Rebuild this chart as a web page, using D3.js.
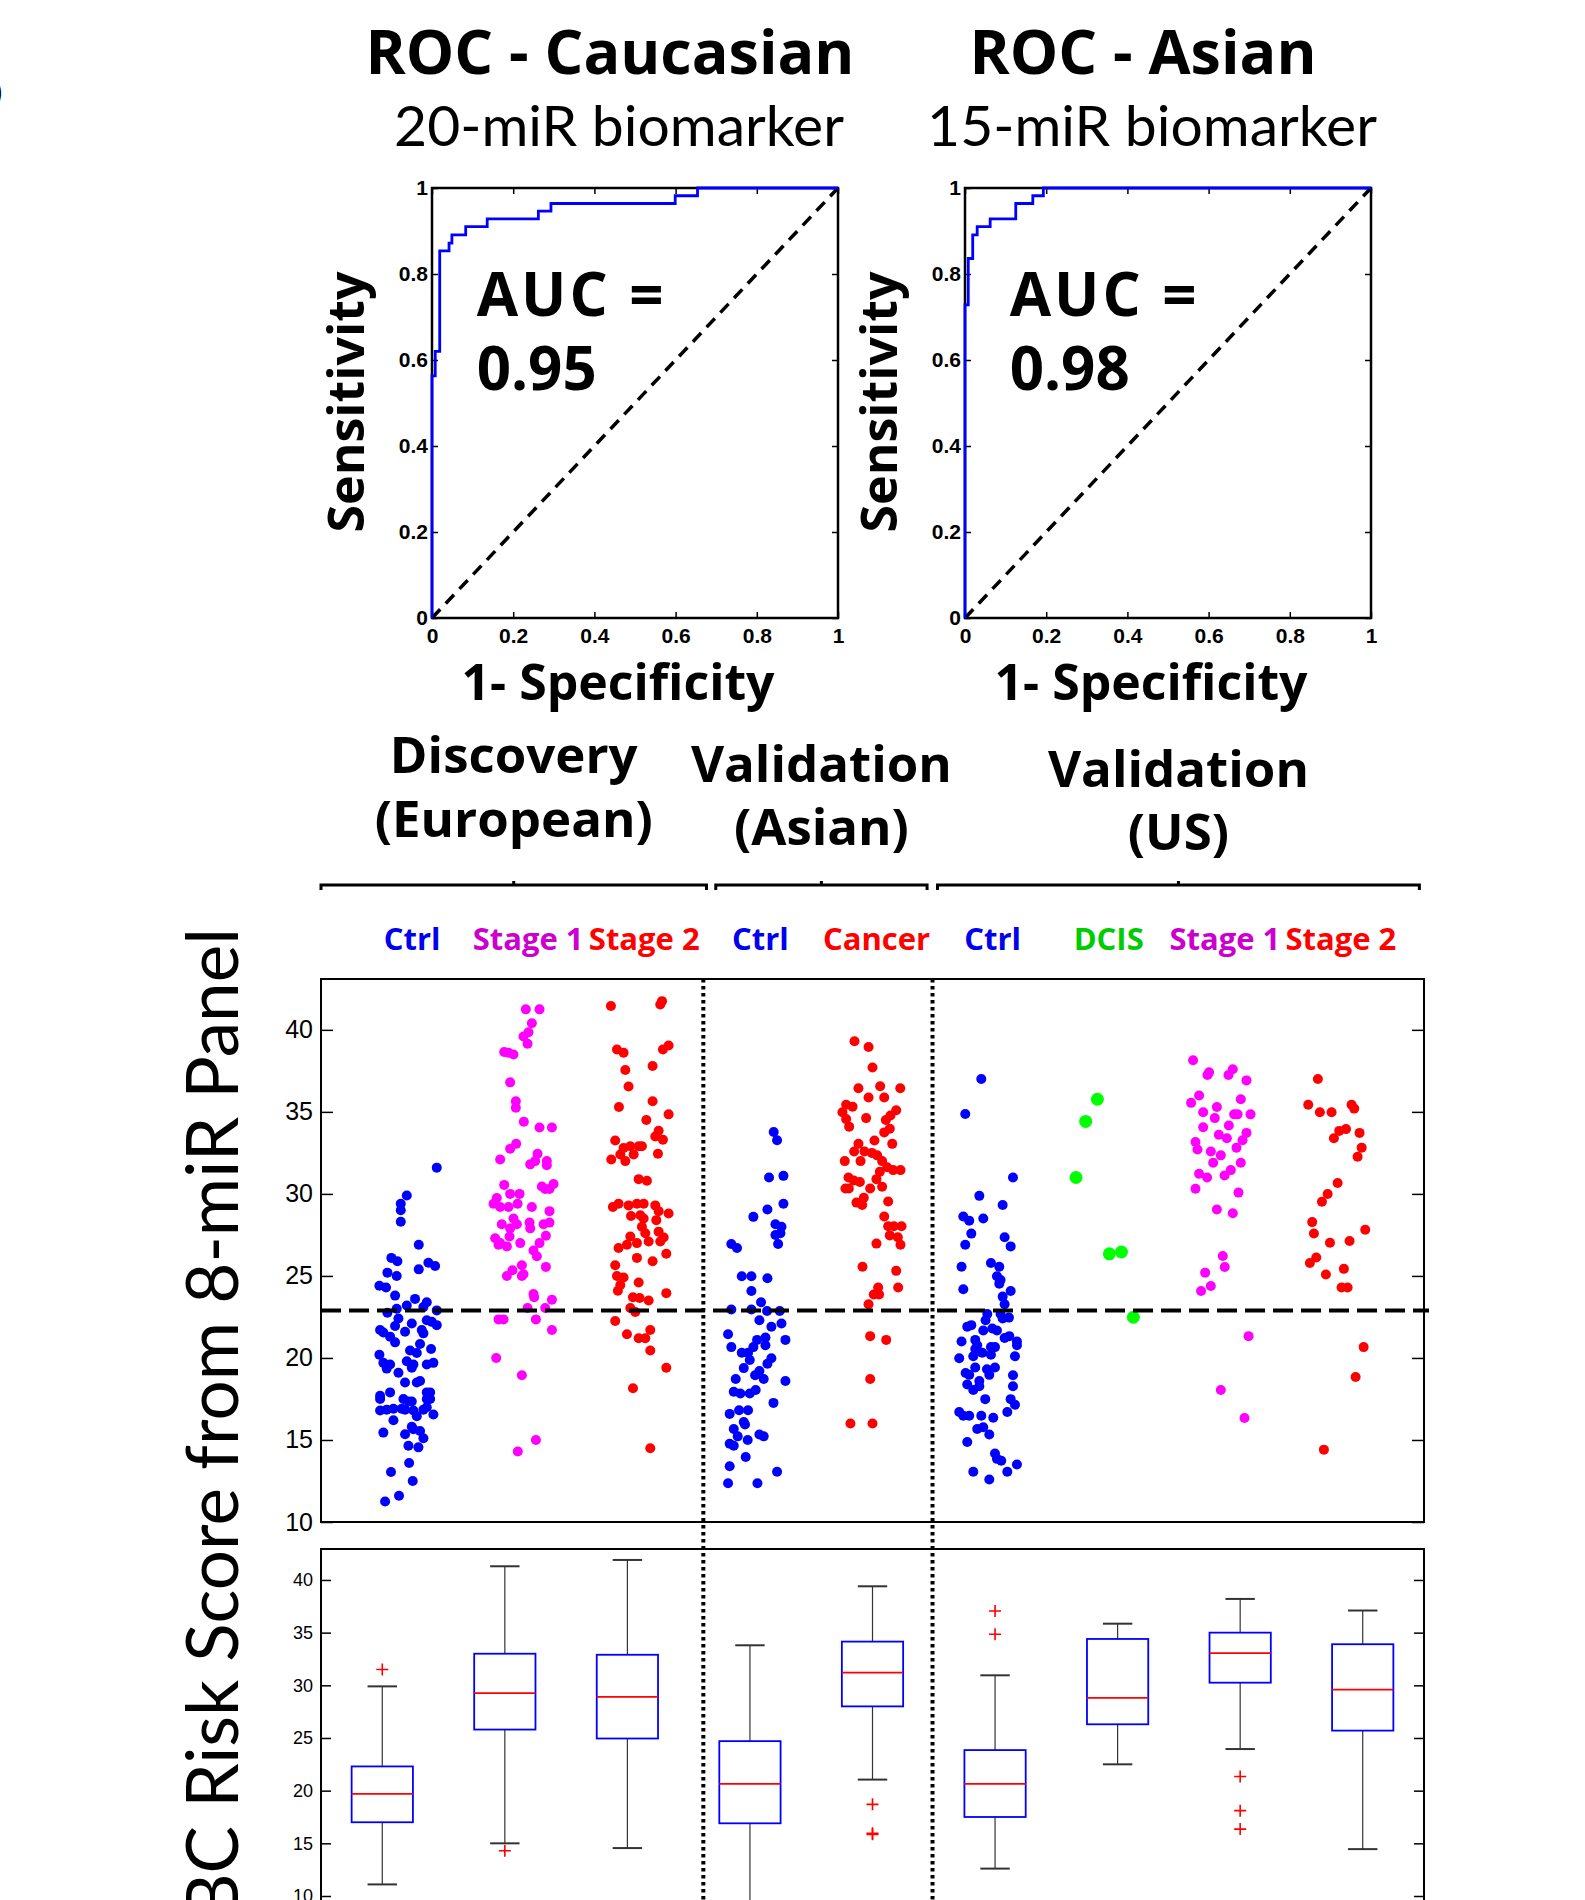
<!DOCTYPE html>
<html>
<head>
<meta charset="utf-8">
<title>miR risk score</title>
<script src="https://cdn.jsdelivr.net/npm/d3@7/dist/d3.min.js"></script>
<style>
    body { margin: 0; background: #fff; }
    svg { display: block; }
    .bold { font-family: "Open Sans", sans-serif; font-weight: 700; }
    .light { font-family: Lato, sans-serif; font-weight: 400; }
    .tick line { stroke: #000; }
</style>
</head>
<body>
<svg id="figure" width="1585" height="1900"></svg>
<script>
/**** DATA ****/

// ROC operating points: false positive rate / true positive rate
const rocCaucasianFpr = [0, 0, 0.008, 0.019, 0.042, 0.049, 0.083, 0.136, 0.262, 0.293, 0.599, 0.654, 1];
const rocCaucasianTpr = [0, 0.563, 0.62, 0.854, 0.872, 0.891, 0.91, 0.928, 0.946, 0.964, 0.982, 1, 1];
const rocAsianFpr = [0, 0, 0.008, 0.019, 0.03, 0.062, 0.125, 0.167, 0.193, 1];
const rocAsianTpr = [0, 0.728, 0.836, 0.891, 0.91, 0.928, 0.964, 0.982, 1, 1];
const rocTitles = ["ROC - Caucasian", "ROC - Asian"];
const rocSubtitles = ["20-miR biomarker", "15-miR biomarker"];
const aucValues = ["0.95", "0.98"];
const rocTicks = [0, 0.2, 0.4, 0.6, 0.8, 1];

const categories = ["Ctrl", "Stage 1", "Stage 2", "Ctrl", "Cancer", "Ctrl", "DCIS", "Stage 1", "Stage 2"];
const groupTitles = [["Discovery", "(European)"], ["Validation", "(Asian)"], ["Validation", "(US)"]];
const scoreTicks = [10, 15, 20, 25, 30, 35, 40];
const riskThreshold = 22.9;

// each point: [horizontal jitter in category units, risk score]
const discoveryCtrl = [
    [0.247, 31.6], [-0.011, 29.9], [-0.063, 29.4], [-0.063, 29.0], [-0.063, 28.3], [0.092, 26.9],
    [-0.144, 26.1], [-0.092, 25.9], [-0.178, 25.2], [-0.098, 25.0], [0.092, 25.4], [0.175, 25.8],
    [0.233, 25.6], [-0.247, 24.4], [-0.19, 24.3], [-0.112, 23.8], [0.06, 23.6], [-0.011, 23.2],
    [0.161, 23.4], [0.132, 23.1], [-0.178, 22.75], [-0.098, 23.0], [0.247, 22.9], [-0.083, 22.4],
    [-0.112, 21.95], [0.161, 22.3], [0.204, 22.2], [0.247, 22.0], [0.032, 22.1], [-0.241, 21.7],
    [-0.213, 21.55], [-0.155, 21.3], [-0.112, 20.95], [-0.026, 21.6], [0.118, 21.7], [0.132, 21.5],
    [0.103, 20.85], [0.198, 20.55], [-0.247, 20.2], [0.017, 20.45], [0.075, 20.3], [-0.213, 19.7],
    [-0.155, 19.6], [-0.011, 19.8], [0.046, 19.6], [0.032, 19.4], [0.161, 19.6], [0.218, 19.7],
    [-0.184, 19.35], [-0.083, 19.1], [-0.026, 18.5], [0.075, 18.5], [0.103, 18.6], [-0.241, 17.7],
    [-0.155, 17.9], [-0.241, 17.5], [0.161, 17.9], [0.19, 17.9], [0.161, 17.5], [0.19, 17.5],
    [-0.04, 17.5], [0.003, 17.35], [0.032, 17.35], [-0.241, 16.8], [-0.184, 16.85], [-0.126, 16.9],
    [-0.055, 16.9], [-0.026, 16.85], [0.046, 16.8], [0.075, 16.45], [0.132, 16.85], [0.161, 17.0],
    [0.218, 16.55], [-0.126, 16.2], [0.032, 15.8], [0.046, 15.65], [0.103, 15.55], [-0.026, 15.35],
    [-0.213, 15.45], [0.132, 15.1], [0.003, 14.65], [0.089, 14.55], [0.009, 13.6], [-0.147, 13.05],
    [0.04, 12.5], [-0.078, 11.6], [-0.198, 11.25]
];
const discoveryStage1 = [
    [0.014, 41.25], [0.132, 41.25], [0.066, 40.4], [-0.006, 39.6], [0.037, 39.85], [0.029, 39.15],
    [-0.172, 38.65], [-0.135, 38.6], [-0.092, 38.5], [-0.121, 36.8], [-0.072, 35.65], [-0.072, 35.25],
    [-0.003, 34.4], [0.132, 34.05], [0.239, 34.05], [-0.121, 32.75], [-0.069, 33.05], [-0.207, 32.1],
    [0.115, 32.45], [0.052, 31.8], [0.095, 32.0], [0.195, 32.0], [0.195, 31.75], [-0.172, 30.55],
    [0.152, 30.45], [0.181, 30.3], [0.218, 30.3], [0.253, 30.6], [-0.236, 29.75], [-0.264, 29.4],
    [-0.207, 29.2], [-0.135, 29.2], [-0.121, 30.0], [-0.04, 30.0], [-0.057, 29.4], [0.066, 29.2],
    [0.218, 28.95], [-0.092, 28.5], [-0.063, 28.15], [-0.121, 27.9], [-0.193, 28.15], [0.046, 28.25],
    [0.052, 27.9], [0.167, 28.15], [0.218, 28.25], [-0.25, 27.3], [-0.207, 27.0], [-0.149, 26.8],
    [-0.221, 26.9], [-0.126, 27.4], [-0.034, 27.0], [0.187, 27.45], [0.132, 27.0], [0.08, 26.55],
    [0.109, 26.2], [-0.02, 25.65], [-0.006, 25.1], [0.187, 25.55], [-0.101, 25.35], [-0.149, 25.0],
    [-0.02, 25.0], [0.08, 23.9], [0.086, 23.7], [0.239, 23.55], [0.029, 23.05], [0.181, 23.05],
    [-0.221, 22.35], [-0.178, 22.35], [0.101, 22.35], [0.239, 21.7], [-0.241, 20.0], [-0.02, 18.95],
    [0.101, 15.0], [-0.055, 14.3]
];
const discoveryStage2 = [
    [-0.253, 41.45], [0.187, 41.75], [0.172, 41.55], [-0.201, 38.8], [-0.144, 38.6], [0.195, 38.8],
    [0.244, 39.05], [-0.129, 37.55], [0.106, 37.8], [-0.101, 36.55], [0.106, 35.65], [-0.184, 35.3],
    [0.244, 34.85], [0.052, 34.5], [0.158, 33.85], [0.129, 33.5], [0.195, 33.3], [-0.216, 33.25],
    [-0.144, 32.8], [-0.086, 32.9], [-0.014, 32.9], [0.014, 32.9], [-0.172, 32.4], [-0.129, 32.0],
    [-0.057, 32.4], [-0.25, 32.1], [0.152, 32.45], [-0.014, 30.9], [0.057, 30.8], [-0.236, 29.2],
    [-0.187, 29.4], [-0.101, 29.3], [-0.029, 29.4], [0.029, 29.4], [0.129, 29.3], [0.158, 28.95],
    [0.244, 28.8], [0.138, 28.4], [-0.08, 28.65], [0, 28.7], [0.029, 28.5], [0.014, 28.0],
    [0.043, 27.6], [0.158, 27.7], [0.201, 27.35], [-0.086, 27.4], [-0.115, 26.9], [-0.187, 26.7],
    [-0.029, 27.0], [0.072, 27.1], [0.172, 27.1], [-0.029, 26.1], [0.224, 26.35], [0.106, 25.9],
    [-0.216, 25.65], [-0.201, 25.0], [-0.144, 24.9], [-0.014, 24.6], [-0.172, 24.45], [-0.193, 24.1],
    [0.224, 23.95], [-0.063, 23.7], [-0.006, 23.65], [0.072, 23.5], [-0.086, 23.05], [-0.043, 22.8],
    [-0.216, 22.25], [-0.115, 21.45], [-0.014, 21.2], [0.043, 21.2], [0.086, 21.7], [0.086, 20.45],
    [0.224, 19.4], [-0.063, 18.15], [0.086, 14.5]
];
const asianCtrl = [
    [0.149, 33.77], [0.178, 33.27], [0.109, 31.0], [0.233, 31.1], [0.233, 29.4], [0.095, 29.05],
    [-0.026, 28.6], [0.164, 28.15], [0.216, 28.0], [0.164, 27.5], [0.207, 27.6], [0.187, 26.95],
    [-0.216, 26.95], [-0.167, 26.7], [-0.126, 24.98], [-0.043, 24.98], [0.095, 24.86], [-0.043, 24.08],
    [0.04, 23.4], [-0.216, 22.95], [-0.043, 22.95], [0.092, 22.86], [0.201, 22.86], [0.026, 22.3],
    [0.129, 21.9], [0.216, 22.1], [-0.244, 21.45], [0.078, 21.24], [0.006, 21.1], [0.25, 21.1],
    [-0.216, 20.66], [-0.026, 20.66], [0.078, 20.77], [-0.126, 20.32], [-0.072, 20.32], [-0.057, 19.87],
    [0.129, 19.98], [0.095, 19.65], [-0.109, 19.38], [0.026, 19.2], [-0.011, 18.95], [0.063, 18.72],
    [-0.178, 18.72], [0.25, 18.6], [-0.195, 17.94], [-0.138, 17.83], [-0.057, 17.83], [-0.006, 18.05],
    [0.147, 17.26], [-0.23, 16.59], [-0.149, 16.81], [-0.072, 16.81], [-0.109, 16.1], [-0.098, 15.94],
    [-0.195, 15.67], [0.026, 15.33], [0.063, 15.22], [-0.161, 15.22], [-0.075, 15.0], [-0.23, 14.77],
    [-0.195, 14.65], [-0.092, 13.96], [-0.23, 13.4], [0.178, 13.06], [-0.244, 12.36], [0.009, 12.36]
];
const asianCancer = [
    [-0.155, 39.3], [-0.034, 38.96], [0, 37.7], [-0.121, 36.44], [0.066, 36.56], [0.239, 36.44],
    [-0.034, 35.88], [0.101, 35.88], [-0.227, 35.43], [-0.172, 35.32], [-0.259, 34.98], [-0.227, 34.56],
    [-0.201, 34.1], [-0.055, 34.62], [0.115, 34.5], [0.155, 34.78], [0.204, 35.1], [0.101, 33.75],
    [0.149, 33.97], [0.17, 33.05], [0.017, 33.25], [-0.121, 33.05], [-0.158, 32.58], [-0.069, 32.58],
    [0.04, 32.35], [-0.239, 32.0], [-0.103, 32.0], [-0.006, 32.5], [0.083, 32.0], [0.126, 31.63],
    [0.178, 31.45], [0.241, 31.45], [0.063, 31.35], [-0.207, 31.0], [-0.161, 30.82], [-0.109, 30.73],
    [-0.204, 30.33], [-0.233, 30.33], [0.034, 30.9], [-0.02, 30.33], [0.083, 30.44], [-0.075, 29.77],
    [-0.138, 29.47], [-0.089, 29.32], [0.135, 29.54], [0.101, 28.62], [0.135, 28.03], [0.184, 28.03],
    [0.25, 28.03], [0.149, 27.47], [0.218, 27.36], [0.241, 26.9], [0.034, 26.97], [-0.086, 25.56],
    [0.204, 25.31], [0.049, 24.3], [0.011, 23.87], [0.057, 23.87], [0.221, 24.3], [-0.034, 23.27],
    [-0.02, 21.33], [0.118, 21.1], [-0.02, 18.72], [-0.19, 16.0], [0, 16.0]
];
const usCtrl = [
    [-0.063, 37.0], [-0.201, 34.87], [0.21, 31.0], [-0.08, 29.88], [0.121, 29.32], [-0.218, 28.62],
    [-0.167, 28.37], [-0.046, 28.5], [-0.149, 27.58], [-0.201, 26.9], [0.138, 27.36], [0.19, 26.8],
    [-0.233, 25.56], [0.02, 25.79], [0.092, 25.56], [0.072, 24.98], [0.092, 24.53], [0.103, 24.75],
    [-0.218, 24.19], [0.19, 24.08], [0.121, 23.74], [0.138, 23.27], [-0.011, 22.68], [-0.026, 22.3],
    [0.103, 22.68], [0.121, 22.41], [0.175, 22.46], [-0.184, 21.9], [-0.149, 22.0], [-0.046, 21.67],
    [0.032, 21.8], [0.072, 21.67], [0.138, 21.22], [0.178, 21.33], [0.244, 21.0], [0.244, 20.77],
    [-0.233, 21.0], [-0.115, 21.1], [-0.098, 20.77], [-0.115, 20.55], [-0.132, 20.1], [-0.055, 20.32],
    [0.02, 20.66], [0.055, 20.66], [0.02, 20.2], [-0.253, 19.98], [0.227, 20.1], [-0.115, 19.42],
    [-0.198, 19.08], [-0.167, 18.97], [-0.014, 19.31], [0.055, 19.42], [0.006, 18.97], [0.21, 18.95],
    [-0.184, 18.38], [-0.132, 18.05], [-0.08, 18.6], [-0.08, 18.27], [0.21, 18.27], [-0.029, 17.49],
    [0.19, 17.49], [0.227, 17.15], [0.161, 16.7], [-0.253, 16.7], [-0.218, 16.48], [-0.167, 16.48],
    [-0.063, 16.48], [0.04, 16.36], [-0.098, 15.67], [-0.046, 15.78], [0.006, 15.33], [-0.184, 14.88],
    [0.055, 14.18], [0.072, 13.85], [0.109, 13.73], [0.244, 13.5], [0.161, 13.06], [-0.132, 13.06],
    [0.006, 12.59]
];
const usDcis = [
    [-0.063, 35.77], [-0.164, 34.42], [-0.247, 31.0], [0.04, 26.35], [0.144, 26.46], [0.247, 22.48]
];
const usStage1 = [
    [-0.239, 38.15], [-0.115, 37.25], [-0.101, 37.41], [0.066, 37.25], [0.103, 37.6], [0.221, 36.92],
    [-0.187, 36.0], [-0.256, 35.55], [0.172, 35.77], [-0.034, 35.3], [-0.152, 34.98], [-0.052, 34.62],
    [0.115, 34.85], [0.144, 34.85], [0.256, 34.85], [0.069, 34.17], [-0.152, 34.06], [-0.017, 33.61],
    [0.221, 33.72], [0.052, 33.39], [0.187, 33.27], [-0.218, 33.16], [-0.201, 32.71], [0.135, 32.82],
    [-0.086, 32.58], [0, 32.35], [-0.066, 31.9], [0.172, 31.9], [-0.187, 31.23], [-0.118, 31.0],
    [0.086, 31.45], [0.032, 31.12], [-0.218, 30.31], [0.152, 30.08], [-0.034, 29.05], [0.103, 28.82],
    [0.017, 26.21], [0.034, 25.54], [-0.135, 25.2], [-0.086, 24.39], [-0.17, 24.08], [0.239, 21.33],
    [0, 18.05], [0.204, 16.34]
];
const usStage2 = [
    [-0.164, 37.0], [-0.247, 35.43], [0.126, 35.43], [0.149, 35.2], [-0.147, 34.98], [-0.046, 34.98],
    [0.02, 33.84], [0.078, 33.95], [0.195, 33.72], [-0.026, 33.39], [0.213, 32.82], [0.178, 32.26],
    [0.006, 30.66], [-0.08, 29.99], [-0.129, 29.52], [-0.213, 28.28], [-0.198, 27.59], [0.244, 27.81],
    [-0.06, 27.02], [0.109, 27.13], [-0.178, 26.12], [-0.233, 25.79], [0.06, 25.43], [-0.095, 25.09],
    [0.04, 24.3], [0.092, 24.3], [0.23, 20.66], [0.161, 18.84], [-0.112, 14.41]
];
const scatterSeries = [discoveryCtrl, discoveryStage1, discoveryStage2, asianCtrl, asianCancer,
    usCtrl, usDcis, usStage1, usStage2];

// box plot summaries, one entry per category
const boxQ1 = [17.0, 25.8, 24.95, 16.9, 28.0, 17.5, 26.3, 30.25, 25.7];
const boxMedian = [19.7, 29.25, 28.9, 20.65, 31.2, 20.65, 28.8, 33.05, 29.6];
const boxQ3 = [22.3, 33.0, 32.9, 24.7, 34.15, 23.85, 34.4, 35.0, 33.9];
const whiskerLow = [11.1, 15.0, 14.55, 8.0, 21.05, 12.6, 22.5, 23.95, 14.45];
const whiskerHigh = [29.9, 41.3, 41.9, 33.8, 39.4, 30.95, 35.85, 38.2, 37.1];
const boxOutliers = [[31.5], [14.3], [], [], [18.7, 15.95, 15.85], [37.05, 34.85], [], [21.35, 18.1, 16.35], []];

/**** LAYOUT / STYLE ****/

const BLUE = "#0000ff", MAGENTA = "#ff00ff", RED = "#ff0000", GREEN = "#00ff00";
const dotColor = [BLUE, MAGENTA, RED, BLUE, RED, BLUE, GREEN, MAGENTA, RED];
const labelColor = ["#0000ee", "#cc00cc", "#ff0000", "#0000ee", "#ff0000", "#0000ee", "#00cc00", "#cc00cc", "#ff0000"];
const TICK_FONT = '"Liberation Sans", Arial, sans-serif';

const ROC_LEFT = [432, 965];
const ROC_SIZE = 406;
const ROC_TOP = 188, ROC_BOTTOM = 618;

const PLOT_LEFT = 321, PLOT_RIGHT = 1424;
const SCATTER_TOP = 979, SCATTER_BOTTOM = 1522;
const BOX_TOP = 1549, BOX_BOTTOM = 1896;

// bracket extents in scatter category units, and the dotted group separators
const groupSpans = [[0.25, 3.57], [3.65, 5.47], [5.56, 9.71]];
const separators = [3.543, 5.517];

const svg = d3.select("#figure");

const xScatter = d3.scaleLinear().domain([0.25, 9.75]).range([PLOT_LEFT, PLOT_RIGHT]);
const yScatter = d3.scaleLinear().domain([10, 43.1]).range([SCATTER_BOTTOM, SCATTER_TOP]);
const xBox = d3.scaleLinear().domain([0.5, 9.5]).range([PLOT_LEFT, PLOT_RIGHT]);
const yBox = d3.scaleLinear().domain([10, 42.94]).range([BOX_BOTTOM, BOX_TOP]);

/**** HELPERS ****/

/**
 * Draw one ROC panel with its titles and AUC annotation.
 *
 * @param {number} i - panel index
 * @param {number[]} fpr
 * @param {number[]} tpr
 */
function drawRoc(i, fpr, tpr) {
    const left = ROC_LEFT[i];
    const x = d3.scaleLinear().domain([0, 1]).range([left, left + ROC_SIZE]);
    const y = d3.scaleLinear().domain([0, 1]).range([ROC_BOTTOM, ROC_TOP]);
    const g = svg.append("g");
    const cx = left + ROC_SIZE / 2;

    g.append("text").attr("class", "bold")
        .attr("x", cx - 25).attr("y", 74)
        .attr("text-anchor", "middle").attr("font-size", 61)
        .text(rocTitles[i]);
    g.append("text").attr("class", "light")
        .attr("x", cx - 16).attr("y", 146)
        .attr("text-anchor", "middle").attr("font-size", 57)
        .text(rocSubtitles[i]);

    const fmt = d => d === 0 || d === 1 ? d3.format("d")(d) : d3.format(".1f")(d);
    const styleAxis = sel => {
        sel.select(".domain").remove();
        sel.selectAll(".tick line").attr("stroke-width", 1.5);
        sel.selectAll(".tick text")
            .attr("font-family", TICK_FONT).attr("font-weight", 700)
            .attr("font-size", 21).attr("fill", "#000");
    };
    g.append("g").attr("transform", `translate(0,${ROC_BOTTOM})`)
        .call(d3.axisBottom(x).tickValues(rocTicks).tickSize(-6).tickPadding(10).tickFormat(fmt))
        .call(styleAxis);
    g.append("g").attr("transform", `translate(0,${ROC_TOP})`)
        .call(d3.axisTop(x).tickValues(rocTicks).tickSize(-6).tickFormat(""))
        .call(styleAxis);
    g.append("g").attr("transform", `translate(${left},0)`)
        .call(d3.axisLeft(y).tickValues(rocTicks).tickSize(-6).tickPadding(4).tickFormat(fmt))
        .call(styleAxis);
    g.append("g").attr("transform", `translate(${left + ROC_SIZE},0)`)
        .call(d3.axisRight(y).tickValues(rocTicks).tickSize(-6).tickFormat(""))
        .call(styleAxis);

    g.append("rect")
        .attr("x", x(0)).attr("y", y(1))
        .attr("width", x(1) - x(0)).attr("height", y(0) - y(1))
        .attr("fill", "none").attr("stroke", "#000").attr("stroke-width", 2.5);

    g.append("line")
        .attr("x1", x(0)).attr("y1", y(0)).attr("x2", x(1)).attr("y2", y(1))
        .attr("stroke", "#000").attr("stroke-width", 3.5).attr("stroke-dasharray", "12,8");

    const line = d3.line().x(d => x(d[0])).y(d => y(d[1])).curve(d3.curveStepAfter);
    g.append("path")
        .datum(fpr.map((f, k) => [f, tpr[k]]))
        .attr("d", line)
        .attr("fill", "none").attr("stroke", BLUE).attr("stroke-width", 2.8);

    g.append("text").attr("class", "bold")
        .attr("x", x(0.11)).attr("y", 316)
        .attr("font-size", 60).attr("letter-spacing", 3)
        .text("AUC =");
    g.append("text").attr("class", "bold")
        .attr("x", x(0.11)).attr("y", 390)
        .attr("font-size", 60)
        .text(aucValues[i]);

    g.append("text").attr("class", "bold")
        .attr("transform", `translate(${left - 68},402) rotate(-90)`)
        .attr("text-anchor", "middle").attr("font-size", 50)
        .text("Sensitivity");
    g.append("text").attr("class", "bold")
        .attr("x", cx - 17).attr("y", 700)
        .attr("text-anchor", "middle").attr("font-size", 50)
        .text("1- Specificity");
}

/**
 * Group titles, brackets and coloured category labels above the scatter.
 */
function drawHeaders() {
    const baselines = [[773, 837], [782, 845], [787, 850]];
    groupSpans.forEach((span, i) => {
        const cx = xScatter((span[0] + span[1]) / 2);
        groupTitles[i].forEach((t, k) => {
            svg.append("text").attr("class", "bold")
                .attr("x", cx).attr("y", baselines[i][k])
                .attr("text-anchor", "middle").attr("font-size", 51)
                .text(t);
        });
        const x0 = xScatter(span[0]), x1 = xScatter(span[1]);
        svg.append("path")
            .attr("d", `M${x0},890V885H${x1}V890M${cx},885V881`)
            .attr("fill", "none").attr("stroke", "#000").attr("stroke-width", 3);
    });

    svg.selectAll("text.cat").data(categories).join("text")
        .attr("class", "cat bold")
        .attr("x", (d, i) => xScatter(i + 1) + 4)
        .attr("y", 950)
        .attr("text-anchor", "middle").attr("font-size", 31)
        .attr("fill", (d, i) => labelColor[i])
        .text(d => d);
}

/**
 * Score axis (left labels, inward ticks on both sides) for a panel.
 */
function drawScoreAxes(y, fontSize, tickLen) {
    const styleAxis = sel => {
        sel.select(".domain").remove();
        sel.selectAll(".tick line").attr("stroke-width", 1.5);
        sel.selectAll(".tick text")
            .attr("font-family", TICK_FONT).attr("font-size", fontSize).attr("fill", "#000");
    };
    svg.append("g").attr("transform", `translate(${PLOT_LEFT},0)`)
        .call(d3.axisLeft(y).tickValues(scoreTicks).tickSize(-tickLen).tickPadding(8))
        .call(styleAxis);
    svg.append("g").attr("transform", `translate(${PLOT_RIGHT},0)`)
        .call(d3.axisRight(y).tickValues(scoreTicks).tickSize(-tickLen).tickFormat(""))
        .call(styleAxis);
}

function drawScatter() {
    drawScoreAxes(yScatter, 25, 12);

    svg.append("rect")
        .attr("x", PLOT_LEFT).attr("y", SCATTER_TOP)
        .attr("width", PLOT_RIGHT - PLOT_LEFT).attr("height", SCATTER_BOTTOM - SCATTER_TOP)
        .attr("fill", "none").attr("stroke", "#000").attr("stroke-width", 2);

    scatterSeries.forEach((points, i) => {
        svg.append("g").selectAll("circle").data(points).join("circle")
            .attr("cx", d => xScatter(i + 1 + d[0]))
            .attr("cy", d => yScatter(d[1]))
            .attr("r", i === 6 ? 6.5 : 5)
            .attr("fill", dotColor[i]);
    });

    svg.append("line")
        .attr("x1", PLOT_LEFT).attr("x2", PLOT_RIGHT + 5)
        .attr("y1", yScatter(riskThreshold)).attr("y2", yScatter(riskThreshold))
        .attr("stroke", "#000").attr("stroke-width", 4).attr("stroke-dasharray", "20,8");
}

function drawBoxes() {
    drawScoreAxes(yBox, 18, 10);

    svg.append("path")
        .attr("d", `M${PLOT_LEFT},1900V${BOX_TOP}H${PLOT_RIGHT}V1900`)
        .attr("fill", "none").attr("stroke", "#000").attr("stroke-width", 2);

    const halfBox = 0.25, halfCap = 0.12;
    categories.forEach((c, k) => {
        const i = k + 1;
        const g = svg.append("g");
        // whiskers
        g.append("line")
            .attr("x1", xBox(i)).attr("x2", xBox(i))
            .attr("y1", yBox(boxQ3[k])).attr("y2", yBox(whiskerHigh[k]))
            .attr("stroke", "#333").attr("stroke-width", 1.2);
        g.append("line")
            .attr("x1", xBox(i)).attr("x2", xBox(i))
            .attr("y1", yBox(boxQ1[k])).attr("y2", yBox(whiskerLow[k]))
            .attr("stroke", "#333").attr("stroke-width", 1.2);
        [whiskerHigh[k], whiskerLow[k]].forEach(v => {
            g.append("line")
                .attr("x1", xBox(i - halfCap)).attr("x2", xBox(i + halfCap))
                .attr("y1", yBox(v)).attr("y2", yBox(v))
                .attr("stroke", "#333").attr("stroke-width", 2);
        });
        g.append("rect")
            .attr("x", xBox(i - halfBox)).attr("y", yBox(boxQ3[k]))
            .attr("width", xBox(i + halfBox) - xBox(i - halfBox))
            .attr("height", yBox(boxQ1[k]) - yBox(boxQ3[k]))
            .attr("fill", "#fff").attr("stroke", BLUE).attr("stroke-width", 1.8);
        g.append("line")
            .attr("x1", xBox(i - halfBox)).attr("x2", xBox(i + halfBox))
            .attr("y1", yBox(boxMedian[k])).attr("y2", yBox(boxMedian[k]))
            .attr("stroke", RED).attr("stroke-width", 1.8);
        g.selectAll("path.out").data(boxOutliers[k]).join("path")
            .attr("transform", d => `translate(${xBox(i)},${yBox(d)})`)
            .attr("d", "M-6,0H6M0,-6V6")
            .attr("stroke", RED).attr("stroke-width", 1.6);
    });
}

function drawSeparators() {
    separators.forEach(s => {
        svg.append("line")
            .attr("x1", xScatter(s)).attr("x2", xScatter(s))
            .attr("y1", SCATTER_TOP).attr("y2", 1900)
            .attr("stroke", "#000").attr("stroke-width", 4).attr("stroke-dasharray", "3.5,3.5");
    });
}

/**** DRAW ****/

drawRoc(0, rocCaucasianFpr, rocCaucasianTpr);
drawRoc(1, rocAsianFpr, rocAsianTpr);
drawHeaders();
drawScatter();
drawBoxes();
drawSeparators();

// big shared y label, partly running off the bottom of the page
svg.append("text").attr("class", "light")
    .attr("transform", "translate(238,928) rotate(-90)")
    .attr("text-anchor", "end").attr("font-size", 71)
    .text("BC Risk Score from 8-miR Panel");

// clipped panel letter at the top-left edge
svg.append("text").attr("class", "bold")
    .attr("x", -8).attr("y", 102).attr("font-size", 30).attr("fill", "#000")
    .text(")");
</script>
</body>
</html>
